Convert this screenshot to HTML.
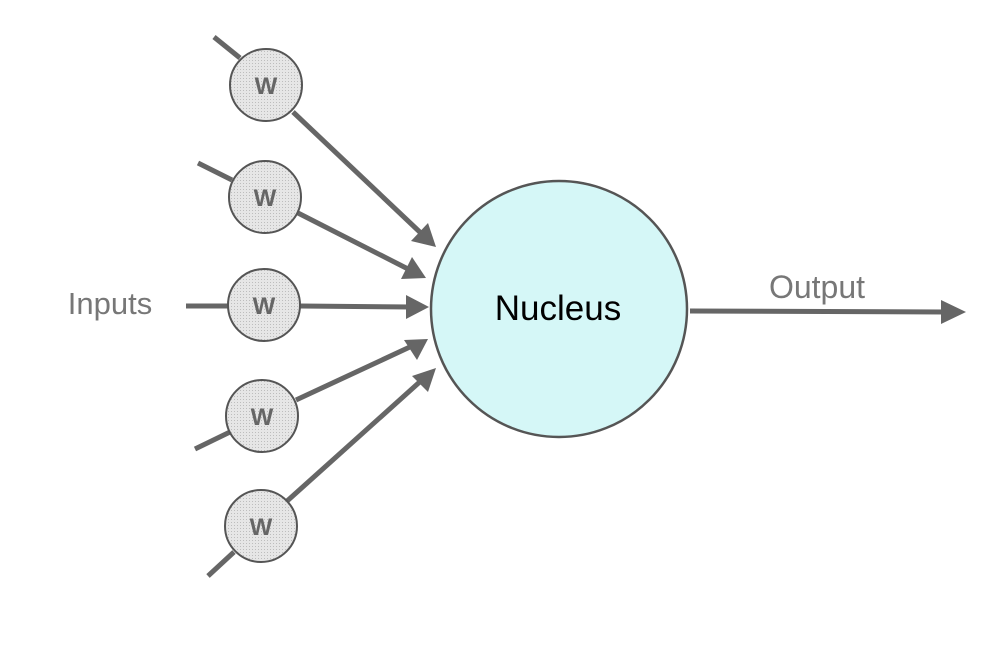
<!DOCTYPE html>
<html><head><meta charset="utf-8"><style>
html,body{margin:0;padding:0;background:#fff;}
svg{display:block;}
</style></head><body>
<svg width="1003" height="653" viewBox="0 0 1003 653" xmlns="http://www.w3.org/2000/svg">
<defs>
<pattern id="dots" width="3" height="3" patternUnits="userSpaceOnUse">
<rect width="3" height="3" fill="#e6e6e6"/><rect width="1" height="1" fill="#bdbdbd"/>
</pattern>
</defs>
<g stroke="#666" stroke-width="5" stroke-linecap="butt" fill="none">
<line x1="214" y1="37" x2="240" y2="58"/>
<line x1="293" y1="112" x2="424" y2="236"/>
<line x1="198" y1="163" x2="232" y2="180"/>
<line x1="298" y1="213" x2="410" y2="270"/>
<line x1="186" y1="306" x2="228" y2="306"/>
<line x1="300" y1="306" x2="412" y2="307"/>
<line x1="195" y1="449" x2="230" y2="432"/>
<line x1="296" y1="400" x2="412" y2="346"/>
<line x1="208" y1="576" x2="234" y2="552"/>
<line x1="286" y1="502" x2="423" y2="379"/>
<line x1="690" y1="311" x2="945" y2="312"/>
</g>
<g fill="#666">
<polygon points="436,247 411,241 428,223"/>
<polygon points="426,278 401,279 412,257"/>
<polygon points="429,307 406,295 406,319"/>
<polygon points="428,339 417,360 404,340"/>
<polygon points="436,368 428,392 412,376"/>
<polygon points="966,312 941,300 941,324"/>
</g>
<g stroke="#555" stroke-width="2" fill="url(#dots)">
<circle cx="266" cy="85" r="36"/>
<circle cx="265" cy="197" r="36"/>
<circle cx="264" cy="305" r="36"/>
<circle cx="262" cy="416" r="36"/>
<circle cx="261" cy="526" r="36"/>
</g>
<g font-family="Liberation Sans, sans-serif" font-weight="bold" font-size="24" fill="#666" text-anchor="middle">
<text x="266" y="94">W</text>
<text x="265" y="206">W</text>
<text x="264" y="314">W</text>
<text x="262" y="425">W</text>
<text x="261" y="535">W</text>
</g>
<circle cx="559" cy="309" r="128" fill="#d5f7f7" stroke="#555" stroke-width="2.5"/>
<text x="558" y="320" font-family="Liberation Sans, sans-serif" font-size="35" fill="#000" text-anchor="middle">Nucleus</text>
<text x="110" y="314" font-family="Liberation Sans, sans-serif" font-size="31" fill="#777" text-anchor="middle">Inputs</text>
<text x="817" y="298" font-family="Liberation Sans, sans-serif" font-size="32" fill="#777" text-anchor="middle">Output</text>
</svg>
</body></html>
